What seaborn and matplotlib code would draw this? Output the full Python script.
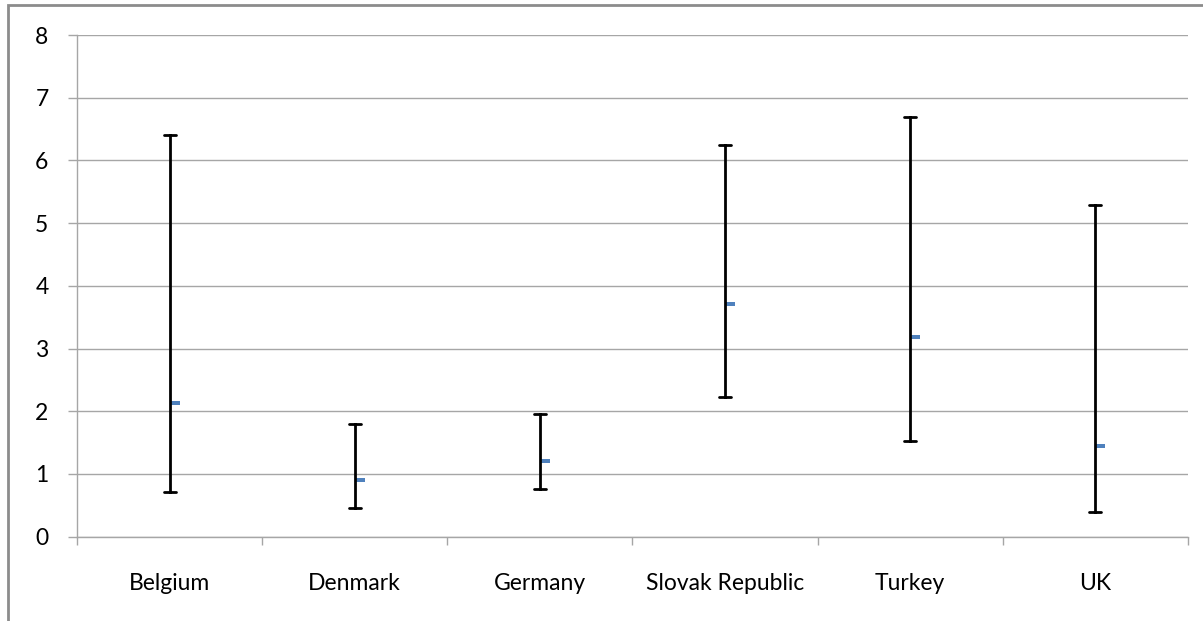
import numpy as np
import pandas as pd
import matplotlib
matplotlib.use("Agg")
import matplotlib.pyplot as plt
from matplotlib.path import Path
from matplotlib.patches import Rectangle
from matplotlib.ticker import FixedLocator
import seaborn as sns

countries = ["Belgium", "Denmark", "Germany", "Slovak Republic", "Turkey", "UK"]
lower = [0.72, 0.45, 0.76, 2.22, 1.52, 0.39]
central = [2.13, 0.90, 1.21, 3.71, 3.19, 1.44]
upper = [6.41, 1.80, 1.95, 6.25, 6.70, 5.29]
yticks = [0, 1, 2, 3, 4, 5, 6, 7, 8]

rows = []
for c, lo, mid, hi in zip(countries, lower, central, upper):
    for v in (lo, mid, hi):
        rows.append({"country": c, "value": v})
df = pd.DataFrame(rows)

sns.set_theme(style="white")
plt.rcParams["font.family"] = ["Lato", "DejaVu Sans"]

fig = plt.figure(figsize=(12.03, 6.21), dpi=100)
ax = fig.add_axes([0.064, 0.1358, 0.9235, 0.8078])

dash = Path([(0, -0.2), (1, -0.2), (1, 0.2), (0, 0.2), (0, -0.2)],
            [Path.MOVETO, Path.LINETO, Path.LINETO, Path.LINETO, Path.CLOSEPOLY])

sns.pointplot(data=df, x="country", y="value", order=countries,
              estimator=np.median,
              errorbar=lambda v: (np.min(v), np.max(v)),
              capsize=0.065, color="#4F81BD",
              err_kws={"color": "black", "linewidth": 2.0},
              linestyle="none", marker=dash, markersize=15,
              markeredgewidth=0, ax=ax)

ax.set_xlim(-0.5, len(countries) - 0.5)
ax.set_ylim(0, 8)
ax.set_yticks(yticks)
ax.set_yticklabels([str(t) for t in yticks])
ax.set_xlabel("")
ax.set_ylabel("")

ax.grid(axis="y", color="#A6A6A6", linewidth=1.0)
ax.set_axisbelow(True)
for s in ["top", "right"]:
    ax.spines[s].set_visible(False)
for s in ["left", "bottom"]:
    ax.spines[s].set_color("#A6A6A6")
    ax.spines[s].set_linewidth(1.0)

ax.xaxis.set_minor_locator(FixedLocator(np.arange(-0.5, len(countries), 1.0)))
ax.tick_params(axis="x", which="major", length=0, pad=26, labelsize=16.5, colors="black")
ax.tick_params(axis="x", which="minor", length=6, width=1, color="#A6A6A6", direction="out", bottom=True)
ax.tick_params(axis="y", which="major", length=6.5, width=1, color="#A6A6A6", direction="out",
               left=True, pad=14, labelsize=16.5, labelcolor="black")

fig.patches.append(Rectangle((8 / 1203, -0.05), 1.2, 1 - 5 / 621 + 0.05,
                             transform=fig.transFigure, fill=False,
                             edgecolor="#8C8C8C", linewidth=2))

fig.savefig("out.png", dpi=100)
